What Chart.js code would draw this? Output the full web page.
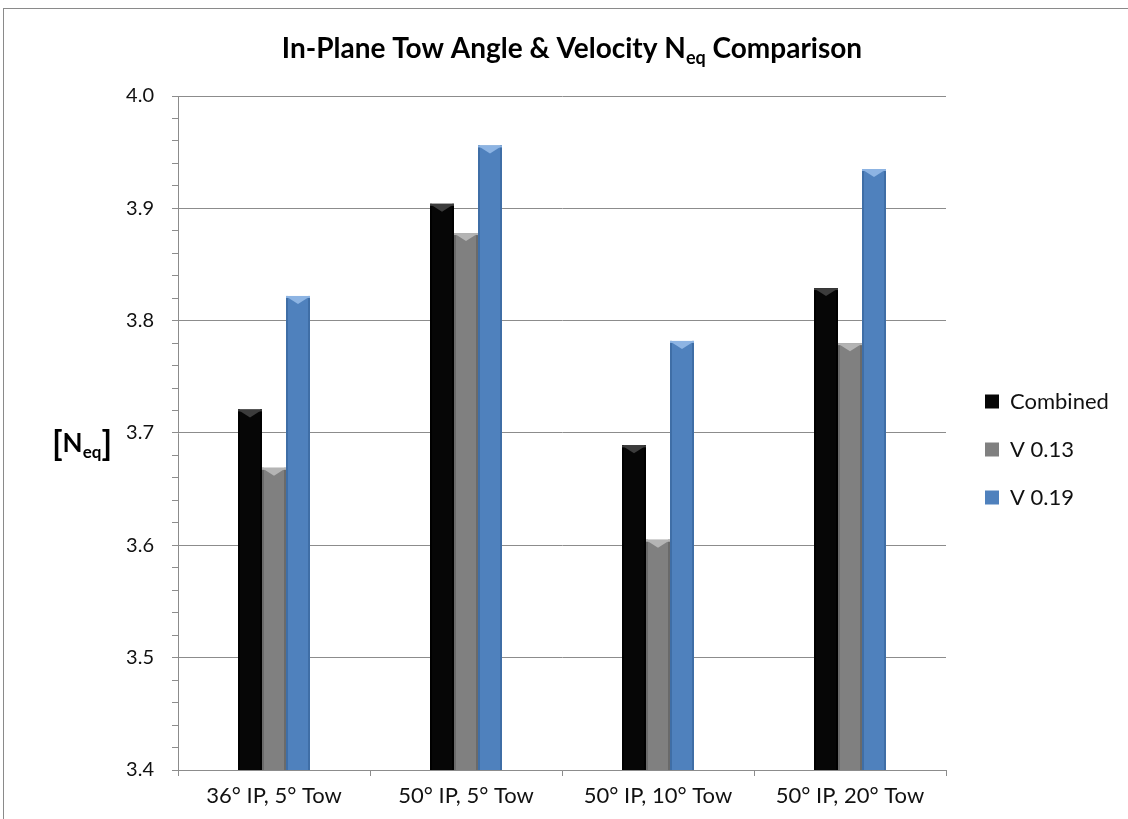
<!DOCTYPE html>
<html>
<head>
<meta charset="utf-8">
<title>In-Plane Tow Angle & Velocity Neq Comparison</title>
<script src="https://cdn.jsdelivr.net/npm/chart.js@4/dist/chart.umd.min.js"></script>
<style>
    html, body { margin: 0; padding: 0; background: #fff; }
    #wrap { position: relative; width: 1128px; height: 819px; overflow: hidden; }
    #frame { position: absolute; left: 3px; top: 8px; width: 1140px; height: 830px; border: 1px solid #8a8a8a; box-sizing: border-box; pointer-events: none; }
    canvas { position: absolute; left: 0; top: 0; }
</style>
</head>
<body>
<div id="wrap">
    <canvas id="neqChart" width="1128" height="819"></canvas>
    <div id="frame"></div>
</div>
<script>
// Chart data
const categories = ['36° IP, 5° Tow', '50° IP, 5° Tow', '50° IP, 10° Tow', '50° IP, 20° Tow'];
const combinedValues = [3.721, 3.904, 3.689, 3.829];
const v013Values = [3.669, 3.878, 3.605, 3.780];
const v019Values = [3.822, 3.956, 3.782, 3.935];
const yTickLabels = ['3.4', '3.5', '3.6', '3.7', '3.8', '3.9', '4.0'];

const fontName = 'Lato, "Open Sans", sans-serif';
const axisGray = '#8c8c8c';

// series colours: face, bevel highlight, edge
const seriesStyles = [
    { face: '#060606', bevel: '#3c3c3c', edge: '#000000' },
    { face: '#808080', bevel: '#b4b4b4', edge: '#6a6a6a' },
    { face: '#4f81bd', bevel: '#8db4e3', edge: '#3f6ea6' }
];

function isMajor(v) {
    return Math.abs(v * 10 - Math.round(v * 10)) < 1e-6;
}

// Draws the bevel look on top of each bar
const bevelPlugin = {
    id: 'bevel',
    afterDatasetsDraw(chart) {
        const ctx = chart.ctx;
        const bottom = chart.chartArea.bottom;
        chart.data.datasets.forEach((ds, i) => {
            const meta = chart.getDatasetMeta(i);
            const st = seriesStyles[i];
            meta.data.forEach(bar => {
                const p = bar.getProps(['x', 'y', 'width'], true);
                const left = p.x - p.width / 2;
                const right = p.x + p.width / 2;
                const h = bottom - p.y;
                ctx.save();
                // darker side edges
                ctx.fillStyle = st.edge;
                ctx.fillRect(left, p.y, 2, h);
                ctx.fillRect(right - 2, p.y, 2, h);
                // light top with a down-pointing bevel
                ctx.fillStyle = st.bevel;
                ctx.fillRect(left, p.y, p.width, 2);
                ctx.beginPath();
                ctx.moveTo(left + 1, p.y + 1);
                ctx.lineTo(right - 1, p.y + 1);
                ctx.lineTo(p.x, p.y + 8);
                ctx.closePath();
                ctx.fill();
                ctx.restore();
            });
        });
    }
};

// draws a row of text pieces centred on cx
function drawParts(ctx, parts, cx, baseline) {
    let total = 0;
    parts.forEach(p => { ctx.font = p.f; p.w = ctx.measureText(p.t).width; total += p.w; });
    let x = cx - total / 2;
    parts.forEach(p => {
        ctx.font = p.f;
        ctx.fillText(p.t, x, baseline + p.dy);
        x += p.w;
    });
}

// Title and y axis title with subscripts
const titlesPlugin = {
    id: 'titles',
    afterDraw(chart) {
        const ctx = chart.ctx;
        ctx.save();
        ctx.fillStyle = '#000';
        ctx.textBaseline = 'alphabetic';

        const big = 'bold 28px ' + fontName;
        const small = 'bold 18px ' + fontName;
        drawParts(ctx, [
            { t: 'In-Plane Tow Angle & Velocity N', f: big, dy: 0 },
            { t: 'eq', f: small, dy: 6 },
            { t: ' Comparison', f: big, dy: 0 }
        ], 572, 58);

        drawParts(ctx, [
            { t: '[', f: 'bold 34px ' + fontName, dy: 3 },
            { t: 'N', f: 'bold 26px ' + fontName, dy: 0 },
            { t: 'eq', f: 'bold 17px ' + fontName, dy: 6 },
            { t: ']', f: 'bold 34px ' + fontName, dy: 3 }
        ], 82, 452);
        ctx.restore();
    }
};

// Move the legend to where the reference has it (and widen its clip box)
const legendShift = {
    id: 'legendShift',
    afterLayout(chart) {
        const lg = chart.legend;
        if (!lg) return;
        lg.left += 13;
        lg.right = chart.width;
        lg.width = lg.right - lg.left;
        lg.top -= 8; lg.bottom -= 8;
    }
};

document.addEventListener('DOMContentLoaded', function() {
    const canvas = document.getElementById('neqChart');

    new Chart(canvas.getContext('2d'), {
        type: 'bar',
        data: {
            labels: categories,
            datasets: [{
                label: 'Combined',
                data: combinedValues,
                backgroundColor: seriesStyles[0].face
            }, {
                label: 'V 0.13',
                data: v013Values,
                backgroundColor: seriesStyles[1].face
            }, {
                label: 'V 0.19',
                data: v019Values,
                backgroundColor: seriesStyles[2].face
            }]
        },
        options: {
            responsive: false,
            animation: false,
            devicePixelRatio: 1,
            layout: {
                padding: { top: 96, left: 0, right: 42, bottom: 0 }
            },
            datasets: {
                bar: {
                    barPercentage: 1,
                    categoryPercentage: 0.375,
                    borderWidth: 0
                }
            },
            plugins: {
                title: { display: false },
                tooltip: { enabled: false },
                legend: {
                    position: 'right',
                    maxWidth: 140,
                    labels: {
                        color: '#111',
                        font: { family: fontName, size: 22 },
                        boxWidth: 14,
                        boxHeight: 14,
                        padding: 26
                    }
                }
            },
            scales: {
                x: {
                    offset: true,
                    grid: {
                        offset: true,
                        drawOnChartArea: false,
                        tickLength: 6,
                        tickColor: axisGray
                    },
                    border: { color: axisGray, width: 1 },
                    ticks: {
                        color: '#111',
                        padding: 7,
                        font: { family: fontName, size: 22 }
                    },
                    afterFit(scale) { scale.height = 49; }
                },
                y: {
                    min: 3.4,
                    max: 4.0,
                    grid: {
                        color: ctx => (ctx.tick && isMajor(ctx.tick.value)) ? axisGray : 'rgba(0,0,0,0)',
                        tickColor: axisGray,
                        tickLength: 6
                    },
                    border: { color: axisGray, width: 1 },
                    ticks: {
                        stepSize: 0.02,
                        autoSkip: false,
                        color: '#111',
                        padding: 18,
                        font: { family: fontName, size: 20 },
                        callback: function(value) {
                            if (!isMajor(value)) return '';
                            const label = value.toFixed(1);
                            return yTickLabels.includes(label) ? label : '';
                        }
                    },
                    afterFit(scale) { scale.width = 178; }
                }
            }
        },
        plugins: [bevelPlugin, titlesPlugin, legendShift]
    });
});
</script>
</body>
</html>
